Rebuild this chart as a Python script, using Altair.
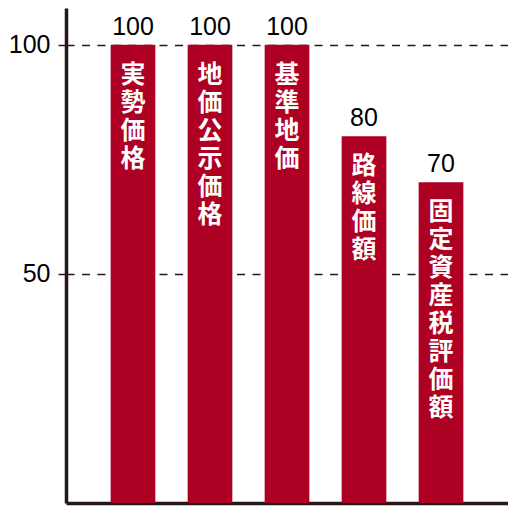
import altair as alt
import pandas as pd

categories = ["実勢価格", "地価公示価格", "基準地価", "路線価額", "固定資産税評価額"]
values = [100, 100, 100, 80, 70]
y_ticks = [50, 100]

df = pd.DataFrame({
    "cat": categories,
    "value": values,
    "vlabel": ["\n".join(c) for c in categories],
})

DARK = "#231815"
RED = "#ae0022"

x = alt.X(
    "cat:N", sort=categories,
    scale=alt.Scale(paddingInner=0.42, paddingOuter=0.58),
    axis=alt.Axis(title=None, labels=False, ticks=False, grid=False,
                  domainColor=DARK, domainWidth=3.5),
)
y = alt.Y(
    "value:Q",
    scale=alt.Scale(domain=[0, 108], nice=False, zero=True),
    axis=alt.Axis(title=None, values=y_ticks, labelFontSize=25,
                  labelFont="Liberation Sans", labelColor="black",
                  labelPadding=5, tickSize=11, tickColor=DARK, tickWidth=1.5,
                  tickDash=[8, 20],
                  grid=True, gridDash=[8, 7.5], gridColor=DARK, gridWidth=1.5,
                  gridOpacity=1,
                  domainColor=DARK, domainWidth=3.5),
)

base = alt.Chart(df).encode(x=x)
bars = base.mark_bar(color=RED).encode(y=y)
vals = base.mark_text(font="Liberation Sans", fontSize=25, baseline="alphabetic",
                      dy=-10, color="black").encode(y=alt.Y("value:Q"), text="value:Q")
vtext = base.mark_text(font="Noto Sans CJK JP", fontWeight="bold", fontSize=25,
                       lineHeight=28, lineBreak="\n", baseline="top", dy=18,
                       color="white").encode(y=alt.Y("value:Q"), text="vlabel:N")

chart = alt.layer(bars, vals, vtext).properties(
    width=442, height=495,
    autosize=alt.AutoSizeParams(type="none"),
    padding={"left": 58, "top": 0, "right": 0, "bottom": 3},
).configure_view(stroke=None)

chart.save("out.html", embed_options={"renderer": "svg", "actions": False})
